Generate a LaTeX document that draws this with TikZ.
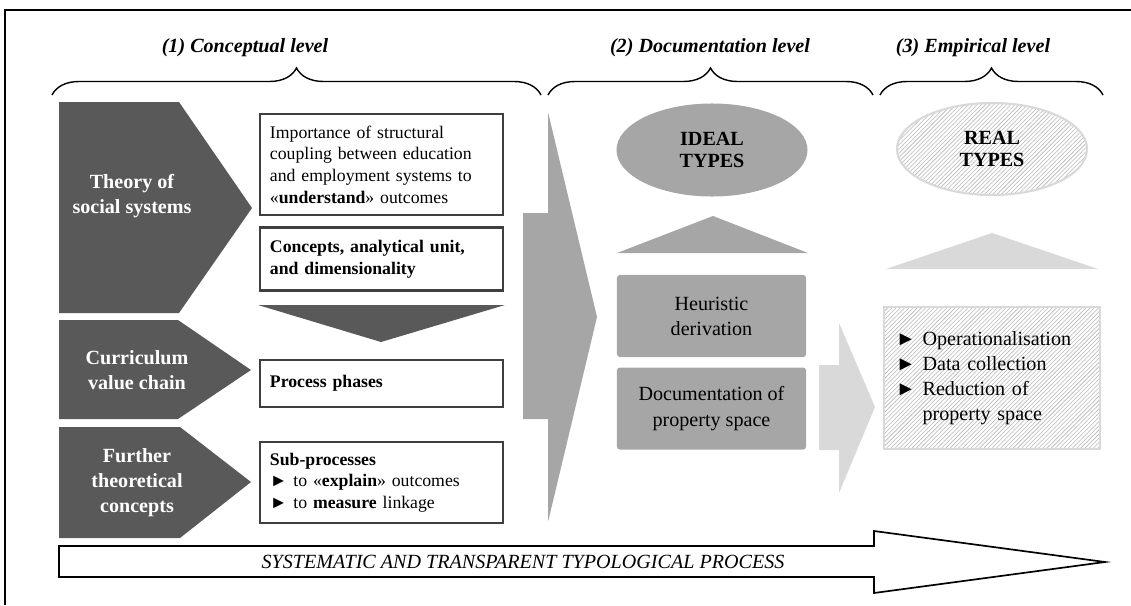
\documentclass[tikz,border=0pt]{standalone}
\usepackage{fontspec}
\setmainfont{Liberation Serif}
\usetikzlibrary{shapes.geometric, decorations.pathreplacing, patterns, positioning, calc}
\definecolor{fonce}{HTML}{595959}
\definecolor{moyen}{HTML}{A6A6A6}
\definecolor{clair}{HTML}{D9D9D9}
\definecolor{bord}{HTML}{3F3F3F}
\newcommand{\grand}{\fontsize{14.3}{17.8}\selectfont}
\newcommand{\serre}{\fontsize{14.3}{15.6}\selectfont}
\newcommand{\petit}{\fontsize{12.6}{15.4}\selectfont}
\newcommand{\puce}{►}
\tikzstyle{cadre} = [
    rectangle,
    draw = bord,
    line width = 1.8pt,
    fill = white,
    text width = 5.575cm,
    inner xsep = 0.25cm,
    align = left,
    font = \petit,
]
\tikzstyle{pointe} = [
    text = white,
    align = center,
    font = \grand\bfseries,
]
\tikzstyle{bloc} = [
    rectangle,
    rounded corners = 2pt,
    fill = moyen,
    minimum width = 4.725cm,
    minimum height = 2.05cm,
    align = center,
    font = \grand,
]
\tikzstyle{hachure} = [
    draw = clair,
    line width = 1.5pt,
    pattern = north east lines,
    pattern color = black!28,
]
\tikzstyle{niveau} = [font = \grand\bfseries\itshape]
\tikzstyle{accolade} = [decorate, decoration = {brace, amplitude = 0.675cm}, line width = 1pt]

\begin{document}
\begin{tikzpicture} [x = 0.025cm, y = -0.025cm]
    \useasboundingbox (0, 0) rectangle (1131, 605);
    \draw[line width = 0.8pt] (5, 605) -- (5, 10) -- (1131, 10);

    \node (Conceptual) [niveau] at (245, 48) {(1) Conceptual level};
    \node (Documentation) [niveau] at (710, 48) {(2) Documentation level};
    \node (Empirical) [niveau] at (973, 48) {(3) Empirical level};
    \draw[accolade] (52, 95) -- (541, 95);
    \draw[accolade] (548, 95) -- (873, 95);
    \draw[accolade] (880, 95) -- (1103, 95);

    \fill[fonce] (59, 102) -- (179, 102) -- (252, 208) -- (179, 313) -- (59, 313) -- cycle;
    \fill[fonce] (59, 320) -- (178, 320) -- (251, 370) -- (178, 419) -- (59, 419) -- cycle;
    \fill[fonce] (59, 427) -- (180, 427) -- (251, 482) -- (180, 538) -- (59, 538) -- cycle;
    \node (Theory) [pointe] at (132, 196) {Theory of\\social systems};
    \node (Curriculum) [pointe] at (137, 370) {Curriculum\\value chain};
    \node (Further) [pointe] at (137, 483) {Further\\theoretical\\concepts};

    \node (Importance) [cadre, minimum height = 2.525cm] at (381.5, 164.5) {Importance of structural\\coupling between education\\and employment systems to\\«\textbf{understand}» outcomes};
    \node (Concepts) [cadre, minimum height = 1.575cm, font = \petit\bfseries, below = 0.25cm of Importance] {Concepts, analytical unit,\\and dimensionality};
    \fill[fonce] (258, 305) -- (505, 305) -- (381, 342) -- cycle;
    \node (Phases) [cadre, minimum height = 1.175cm, font = \petit\bfseries] at (381.5, 383.5) {Process phases};
    \node (Subprocesses) [cadre, minimum height = 2.025cm] at (381.5, 482.5) {\textbf{Sub-processes}\\\puce{} to «\textbf{explain}» outcomes\\\puce{} to \textbf{measure} linkage};

    \fill[moyen] (523, 213) -- (548, 213) -- (548, 112) -- (597, 317) -- (548, 522) -- (548, 419) -- (523, 419) -- cycle;

    \node (Ideal) [ellipse, fill = moyen, minimum width = 4.775cm, minimum height = 2.325cm, inner sep = 0pt, align = center, font = \serre\bfseries] at (712, 150) {IDEAL\\TYPES};
    \fill[moyen] (617, 253) -- (713, 216) -- (808, 253) -- cycle;
    \node (Heuristic) [bloc] at (711.5, 316) {Heuristic\\derivation};
    \node (Property) [bloc, below = 0.25cm of Heuristic] {Documentation of\\property space};

    \fill[clair] (819, 365) -- (839, 365) -- (839, 323) -- (875, 407) -- (839, 493) -- (839, 450) -- (819, 450) -- cycle;

    \node (Real) [ellipse, hachure, minimum width = 4.75cm, minimum height = 2.3cm, inner sep = 0pt, align = center, font = \serre\bfseries] at (992, 149) {REAL\\TYPES};
    \fill[clair] (886, 269) -- (992, 233) -- (1098, 269) -- cycle;
    \node (Steps) [rectangle, hachure, minimum width = 5.4cm, minimum height = 3.55cm, text width = 4.8cm, inner xsep = 0.3cm, align = left, font = \grand] at (992, 378) {\puce{} Operationalisation\\\puce{} Data collection\\\puce{} Reduction of\\\phantom{\puce{} }property space};

    \draw[line width = 1.2pt, fill = white] (59, 546) -- (874, 546) -- (874, 531) -- (1105, 562) -- (874, 593) -- (874, 577) -- (59, 577) -- cycle;
    \node (Process) [font = \grand\itshape] at (523, 562) {SYSTEMATIC AND TRANSPARENT TYPOLOGICAL PROCESS};
\end{tikzpicture}
\end{document}
